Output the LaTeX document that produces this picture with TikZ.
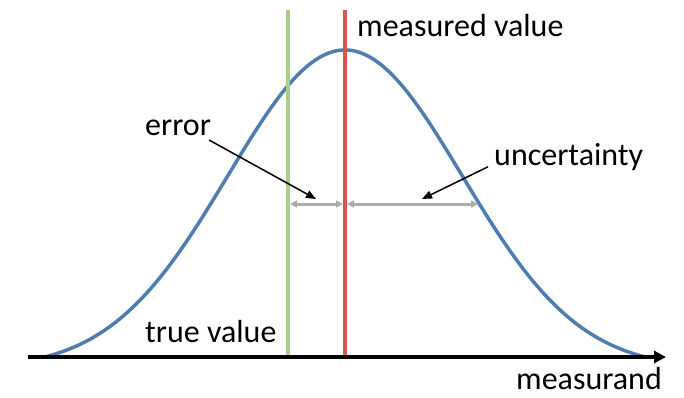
\documentclass[tikz,border=0pt]{standalone}
\usepackage{fontspec}
\setmainfont{Carlito}
\usepackage{tikz}
\usetikzlibrary{arrows.meta, positioning, calc}

\definecolor{curveblue}{RGB}{79,125,176}
\definecolor{truegreen}{RGB}{169,207,138}
\definecolor{measred}{RGB}{224,82,78}
\definecolor{spangray}{RGB}{172,172,172}

\begin{document}
\begin{tikzpicture}[
    x=1pt, y=-1pt,
    label/.style={inner sep=0pt, font=\fontsize{32}{36}\selectfont},
    axis/.style={line width=3.5pt, -{Triangle[length=12pt, width=12pt]}},
    valueline/.style={line width=3.5pt},
    span/.style={line width=3pt, spangray, {Triangle[length=7pt, width=7pt]}-{Triangle[length=7pt, width=7pt]}},
    pointer/.style={line width=1.5pt, -{Triangle[length=10pt, width=8pt]}}
]
    \useasboundingbox (0,0) rectangle (684,397);

    % ================= BELL CURVE =================
    \draw[curveblue, line width=3.5pt, line cap=round]
        plot[domain=45:645, samples=120, smooth]
        (\x, {357 - 307*(exp(-0.5*((\x-345)/117)^2) - 0.0372)/(1 - 0.0372)});

    % ================= VALUE LINES =================
    \coordinate (true_top) at (288, 10);
    \coordinate (true_bot) at (288, 357);
    \coordinate (meas_top) at (345, 10);
    \coordinate (meas_bot) at (345, 357);
    \draw[valueline, truegreen] (true_top) -- (true_bot);
    \draw[valueline, measred] (meas_top) -- (meas_bot);

    % ================= AXIS =================
    \coordinate (ax_start) at (28, 357);
    \coordinate (ax_end) at (666, 357);
    \draw[axis] (ax_start) -- (ax_end);

    % ================= SPANS =================
    \coordinate (err_l) at (290, 204);
    \coordinate (err_r) at (343, 204);
    \coordinate (unc_l) at (347, 204);
    \coordinate (unc_r) at (478, 204);
    \draw[span] (err_l) -- (err_r);
    \draw[span] (unc_l) -- (unc_r);

    % ================= LABELS =================
    \node[label, anchor=west] (meas_lbl) at (357, 26) {measured value};
    \node[label, anchor=west] (true_lbl) at (145, 331) {true value};
    \node[label, anchor=base east] (axis_lbl) at (662, 389) {measurand};
    \node[label, anchor=west] (err_lbl) at (145, 128) {error};
    \node[label, anchor=west] (unc_lbl) at (494, 157) {uncertainty};

    % ================= POINTERS =================
    \coordinate (err_tip) at (316, 199);
    \coordinate (unc_tip) at (422, 199);
    \draw[pointer] (err_lbl.south east) ++(-2,4) -- (err_tip);
    \draw[pointer] ($(unc_lbl.south west)+(-6,-4)$) -- (unc_tip);

\end{tikzpicture}
\end{document}
